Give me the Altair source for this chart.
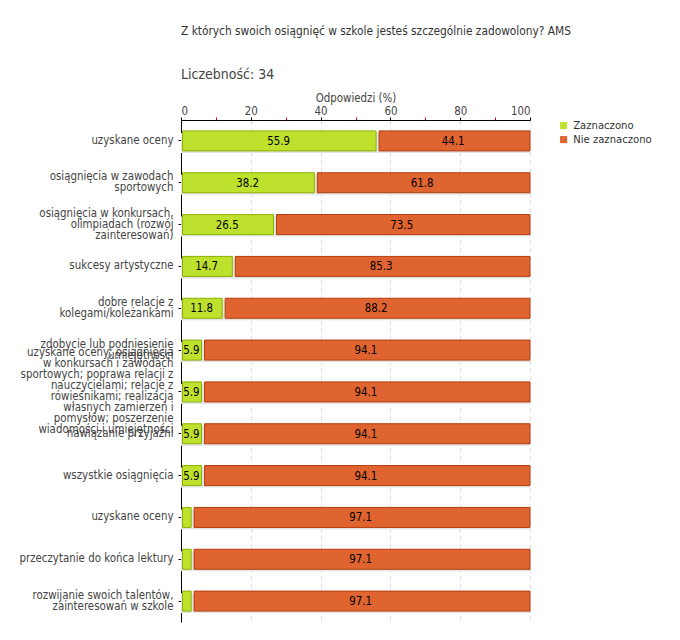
import altair as alt
import pandas as pd

categories = [
    "uzyskane oceny",
    "osiągnięcia w zawodach|sportowych",
    "osiągnięcia w konkursach,|olimpiadach (rozwój|zainteresowań)",
    "sukcesy artystyczne",
    "dobre relacje z|kolegami/koleżankami",
    "zdobycie lub podniesienie|umiejętności",
    "uzyskane oceny; osiągnięcia|w konkursach i zawodach|sportowych; poprawa relacji z|nauczycielami; relacje z|rówieśnikami; realizacja|własnych zamierzeń i|pomysłów; poszerzenie|wiadomości i umiejętności",
    "nawiązanie przyjaźni",
    "wszystkie osiągnięcia",
    "uzyskane oceny\u00a0\u00a0",
    "przeczytanie do końca lektury",
    "rozwijanie swoich talentów,|zainteresowań w szkole",
]
zaznaczono = [55.9, 38.2, 26.5, 14.7, 11.8, 5.9, 5.9, 5.9, 5.9, 2.9, 2.9, 2.9]
nie_zaznaczono = [44.1, 61.8, 73.5, 85.3, 88.2, 94.1, 94.1, 94.1, 94.1, 97.1, 97.1, 97.1]
series = ["Zaznaczono", "Nie zaznaczono"]
fill_colors = ["#bde12d", "#e06430"]
stroke_colors = ["#8cb000", "#b23c0e"]
x_ticks = [0, 20, 40, 60, 80, 100]
x_minor = [10, 30, 50, 70, 90]

FONT = "DejaVu Sans Condensed, Liberation Sans, sans-serif"
LINE_H = 11

rows = []
for c, a, b in zip(categories, zaznaczono, nie_zaznaczono):
    rows.append({"cat": c, "series": series[0], "start": 0.0, "end": a,
                 "mid": a / 2, "value": a, "txt": f"{a:.1f}" if a >= 5 else ""})
    rows.append({"cat": c, "series": series[1], "start": a, "end": 100.0,
                 "mid": a + b / 2, "value": b, "txt": f"{b:.1f}"})
df = pd.DataFrame(rows)

yenc = alt.Y("cat:N", sort=categories, title=None,
             scale=alt.Scale(paddingInner=0.5, paddingOuter=0.25),
             axis=alt.Axis(labelExpr="split(datum.value, '|')", labelFont=FONT,
                           labelFontSize=11.4, labelColor="#444", labelLineHeight=LINE_H,
                           domainColor="#000", tickColor="#000", tickSize=3,
                           labelPadding=5, labelLimit=300,
                           labelOffset={"expr": f"-(length(split(datum.value, '|')) - 1) * {LINE_H / 2}"}))
xscale = alt.Scale(domain=[0, 100], nice=False)
xaxis = alt.Axis(orient="top", values=x_ticks, title="Odpowiedzi (%)", titleFont=FONT,
                 titleFontSize=11.4, titleFontWeight="normal", titleColor="#444",
                 titlePadding=2, labelFont=FONT, labelFontSize=11.4, labelColor="#444",
                 domainColor="#000", tickColor="#000", tickSize=3, labelPadding=1,
                 grid=True, gridDash=[4, 4], gridColor="#dcdcdc")
color = alt.Color("series:N", scale=alt.Scale(domain=series, range=fill_colors),
                  legend=alt.Legend(title=None, orient="right", offset=28,
                                    symbolType="square", symbolSize=50,
                                    symbolStrokeWidth=0, labelFont=FONT,
                                    labelFontSize=11.2, labelColor="#333",
                                    rowPadding=2))
stroke = alt.Stroke("series:N", scale=alt.Scale(domain=series, range=stroke_colors), legend=None)

base = alt.Chart(df)

shadow = base.mark_bar(size=20, color="#e4e4e4", yOffset=2).encode(
    x=alt.X("start:Q", scale=xscale, axis=xaxis), x2="end:Q", y=yenc)

green = base.transform_filter(alt.datum.series == series[0]).mark_bar(
    size=20, strokeWidth=1, xOffset=1.5).encode(
    x=alt.X("start:Q", scale=xscale, axis=None), x2="end:Q", y=yenc,
    color=color, stroke=stroke)

orange = base.transform_filter(alt.datum.series == series[1]).mark_bar(
    size=20, strokeWidth=1, xOffset=3).encode(
    x=alt.X("start:Q", scale=xscale, axis=None), x2="end:Q", y=yenc,
    color=color, stroke=stroke)

labels = base.mark_text(font=FONT, fontSize=11.4, color="#000", baseline="middle", dy=1).encode(
    x=alt.X("mid:Q", scale=xscale, axis=None), y=yenc, text="txt:N")

minor = alt.Chart(pd.DataFrame({"m": x_minor})).mark_tick(opacity=0).encode(
    x=alt.X("m:Q", scale=xscale,
            axis=alt.Axis(orient="top", values=x_minor, labels=False, domain=False,
                          grid=False, title=None, tickColor="#dd0000", tickSize=3)))

chart = alt.layer(shadow, green, orange, labels, minor).resolve_axis(x="independent").properties(
    width=349, height=502,
    autosize=alt.AutoSizeParams(type="none"),
    padding={"left": 173, "top": 112, "right": 140, "bottom": 18},
    title=alt.TitleParams(
        text="Z których swoich osiągnięć w szkole jesteś szczególnie zadowolony? AMS",
        subtitle="Liczebność: 34", anchor="start", frame="group", font=FONT,
        fontSize=11.8, fontWeight="normal", color="#333", subtitleFont=FONT,
        subtitleFontSize=14, subtitleColor="#444", subtitlePadding=30, offset=10),
).configure_view(stroke=None)

chart.save("out.html", embed_options={"renderer": "svg", "actions": False})
